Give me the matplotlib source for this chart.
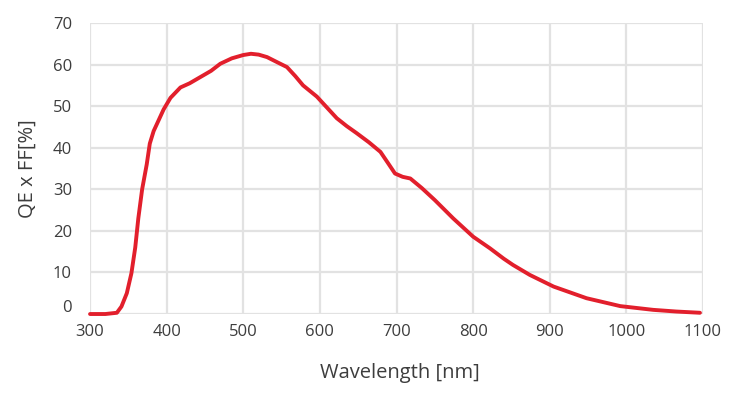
import matplotlib
matplotlib.use("Agg")
import matplotlib.pyplot as plt
import matplotlib.transforms as mtransforms

# spectral response
wavelength = [300, 320, 335, 341, 348, 354, 359, 363, 368, 374, 378, 383,
              396, 405, 418, 430, 444, 458, 470, 485, 500, 510, 520, 531,
              545, 557, 568, 578, 596, 610, 622, 635, 648, 664, 679, 690,
              698, 708, 718, 733, 750, 774, 800, 822, 840, 852, 874, 905,
              948, 992, 1035, 1065, 1096]
qe_ff = [0.0, 0.0, 0.3, 1.8, 5.0, 9.8, 16.0, 23.0, 30.0, 36.0, 41.0, 44.0,
         49.2, 52.0, 54.5, 55.5, 57.0, 58.5, 60.2, 61.5, 62.3, 62.6, 62.4, 61.8,
         60.5, 59.4, 57.2, 55.0, 52.3, 49.5, 47.1, 45.2, 43.5, 41.3, 39.0, 36.0,
         33.8, 33.0, 32.6, 30.3, 27.4, 23.0, 18.6, 15.8, 13.3, 11.8, 9.4, 6.6,
         3.8, 1.9, 1.0, 0.6, 0.3]

x_ticks = [300, 400, 500, 600, 700, 800, 900, 1000, 1100]
y_ticks = [0, 10, 20, 30, 40, 50, 60, 70]

text_color = "#3d3d3d"
grid_color = "#e2e2e2"
line_color = "#e21f2c"

plt.rcParams["font.family"] = ["Open Sans", "DejaVu Sans"]

fig = plt.figure(figsize=(7.38, 3.94), dpi=100)
ax = fig.add_axes([0.122, 0.203, 0.8306, 0.7386])

ax.plot(wavelength, qe_ff, color=line_color, linewidth=2.8, clip_on=False,
        solid_joinstyle="round", solid_capstyle="round", zorder=3)

ax.set_xlim(300, 1100)
ax.set_ylim(0, 70)
ax.set_xticks(x_ticks)
ax.set_yticks(y_ticks)
ax.grid(True, color=grid_color, linewidth=1.6)
ax.set_axisbelow(True)
for s in ax.spines.values():
    s.set_visible(False)
ax.tick_params(axis="both", length=0, labelsize=12, colors=text_color)
ax.tick_params(axis="x", pad=7)
ax.tick_params(axis="y", pad=13)

ax.set_xlabel("Wavelength [nm]", fontsize=14.5, color=text_color)
ax.set_ylabel("QE x FF[%]", fontsize=14.5, color=text_color, labelpad=11)
ax.xaxis.set_label_coords(0.506, -0.168, transform=ax.transAxes)

# the "0" label sits a little above its grid line in the original
fig.canvas.draw()
zero_lbl = ax.yaxis.get_major_ticks()[0].label1
zero_lbl.set_transform(zero_lbl.get_transform() +
                       mtransforms.ScaledTranslation(0, 8 / 100, fig.dpi_scale_trans))

fig.savefig("out.png", dpi=100)
